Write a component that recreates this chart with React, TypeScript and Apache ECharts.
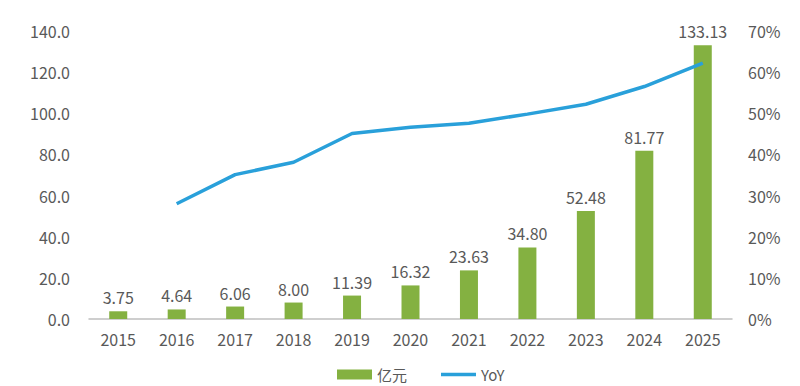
import React, { useEffect, useRef } from "react";
import * as echarts from "echarts";

const years = ["2015", "2016", "2017", "2018", "2019", "2020", "2021", "2022", "2023", "2024", "2025"];
const revenue = [3.75, 4.64, 6.06, 8.0, 11.39, 16.32, 23.63, 34.8, 52.48, 81.77, 133.13];
const yoy = [null, 28.0, 35.1, 38.1, 45.1, 46.6, 47.6, 49.8, 52.2, 56.5, 62.2];
const barName = "亿元";
const lineName = "YoY";

const FONT = "'Noto Sans CJK SC', 'Noto Sans', sans-serif";
const TEXT = "#595959";

export default function App() {
  const ref = useRef<HTMLDivElement>(null);
  useEffect(() => {
    if (!ref.current) return;
    const chart = echarts.init(ref.current, undefined, { renderer: "svg" });
    chart.setOption({
      animation: false,
      backgroundColor: "#ffffff",
      textStyle: { fontFamily: FONT },
      grid: { left: 89, right: 68, top: 31, bottom: 67, containLabel: false },
      legend: {
        left: 332,
        top: 362,
        itemWidth: 35,
        itemHeight: 10,
        itemGap: 34,
        symbolKeepAspect: true,
        textStyle: { fontSize: 15, color: TEXT, fontFamily: FONT },
        data: [
          { name: barName, icon: "rect" },
          { name: lineName, icon: "path://M0,0L35,0L35,3.5L0,3.5Z" },
        ],
      },
      xAxis: {
        type: "category",
        data: years,
        axisLine: { show: true, lineStyle: { color: "#bfbfbf", width: 1.5 } },
        axisTick: { show: false },
        axisLabel: { color: TEXT, fontSize: 16, margin: 12, fontFamily: FONT },
      },
      yAxis: [
        {
          type: "value",
          min: 0,
          max: 140,
          interval: 20,
          axisLine: { show: false },
          axisTick: { show: false },
          splitLine: { show: false },
          axisLabel: {
            color: TEXT,
            fontSize: 16,
            margin: 19,
            fontFamily: FONT,
            formatter: (v: number) => v.toFixed(1),
          },
        },
        {
          type: "value",
          min: 0,
          max: 70,
          interval: 10,
          axisLine: { show: false },
          axisTick: { show: false },
          splitLine: { show: false },
          axisLabel: {
            color: TEXT,
            fontSize: 16,
            margin: 16,
            fontFamily: FONT,
            formatter: "{value}%",
          },
        },
      ],
      series: [
        {
          name: barName,
          type: "bar",
          data: revenue,
          barWidth: 18,
          itemStyle: { color: "#84b141" },
          label: {
            show: true,
            position: "top",
            distance: 6,
            color: TEXT,
            fontSize: 16,
            fontFamily: FONT,
            formatter: (p: any) => Number(p.value).toFixed(2),
          },
        },
        {
          name: lineName,
          type: "line",
          yAxisIndex: 1,
          data: yoy,
          symbol: "none",
          connectNulls: false,
          lineStyle: { color: "#29a0da", width: 3.5 },
          itemStyle: { color: "#29a0da" },
        },
      ],
    });
    return () => chart.dispose();
  }, []);
  return (
    <div
      ref={ref}
      style={{ position: "fixed", left: 0, top: 0, width: 800, height: 386 }}
    />
  );
}
